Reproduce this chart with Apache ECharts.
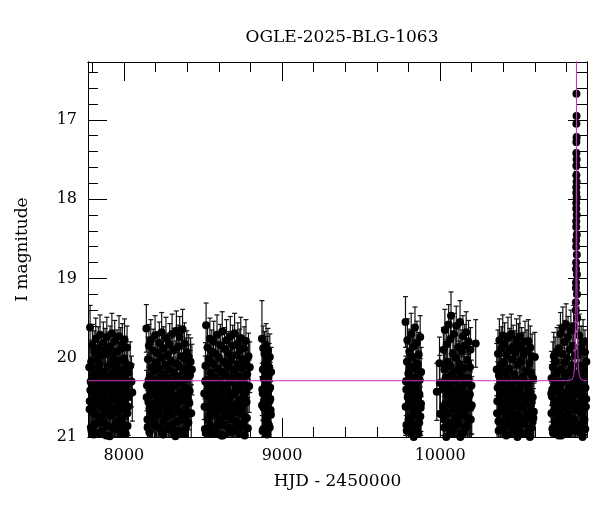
<!DOCTYPE html>
<html><head><meta charset="utf-8">
<script src="https://cdn.jsdelivr.net/npm/echarts@6/dist/echarts.min.js"></script>
<style>html,body{margin:0;padding:0;background:#fff}#c{width:600px;height:512px}</style>
</head><body><div id="c"></div>
<script>
// [HJD-2450000, I mag, error]
const season2017 = [[7781,20.12,.30],[7783,20.65,.35],[7786,19.62,.28],[7788,20.41,.32],[7791,20.88,.38],[7793,20.05,.27],[7796,20.33,.31],[7798,21.05,.40],[7801,19.84,.26],[7804,20.52,.34],[7806,20.21,.30],[7809,20.97,.38],[7812,19.93,.27],[7814,20.44,.33],[7817,20.71,.36],[7820,20.15,.29],[7822,19.76,.26],[7825,20.58,.34],[7828,20.29,.31],[7830,21.10,.42],[7833,20.02,.28],[7836,20.37,.32],[7838,19.88,.27],[7841,20.81,.37],[7844,20.49,.33],[7846,20.09,.29],[7849,19.71,.25],[7852,20.62,.35],[7854,20.26,.30],[7857,20.93,.39],[7860,19.97,.28],[7862,20.40,.32],[7865,20.74,.36],[7868,20.18,.29],[7870,19.81,.26],[7873,20.55,.34],[7876,21.02,.41],[7878,20.31,.31],[7881,19.90,.27],[7884,20.67,.35],[7886,20.23,.30],[7889,20.46,.33],[7892,19.74,.25],[7894,20.86,.38],[7897,20.11,.29],[7900,20.36,.31],[7902,19.95,.27],[7905,20.60,.35],[7908,20.28,.30],[7910,20.99,.40],[7913,19.86,.26],[7916,20.43,.33],[7918,20.73,.36],[7921,20.07,.28],[7924,19.69,.25],[7926,20.51,.34],[7929,20.20,.30],[7932,20.90,.38],[7934,19.99,.28],[7937,20.38,.32],[7940,20.64,.35],[7942,19.79,.26],[7945,20.25,.30],[7948,20.83,.37],[7950,20.13,.29],[7953,20.47,.33],[7956,19.92,.27],[7958,20.69,.36],[7961,20.34,.31],[7964,21.08,.41],[7966,20.04,.28],[7969,19.73,.26],[7972,20.57,.34],[7974,20.22,.30],[7977,20.95,.39],[7980,19.89,.27],[7982,20.42,.32],[7985,20.77,.37],[7988,20.16,.29],[7990,19.83,.26],[7993,20.53,.34],[7996,20.30,.31],[7998,20.85,.38],[8001,20.01,.28],[8004,19.77,.26],[8006,20.63,.35],[8009,20.27,.30],[8012,20.96,.39],[8014,20.08,.29],[8017,20.45,.33],[8020,19.87,.27],[8022,20.70,.36],[8025,20.19,.30],[8028,20.50,.33],[8040,20.10,.30],[8048,20.30,.32],[8053,20.44,.36],
  [7784,20.55,.35],[7790,20.30,.32],[7795,20.92,.40],[7800,20.68,.36],[7805,21.15,.43],[7810,20.40,.33],[7815,20.85,.39],[7821,20.60,.35],[7826,21.08,.42],[7832,20.48,.34],[7839,20.20,.31],[7845,20.95,.40],[7850,20.75,.37],[7856,20.35,.32],[7863,21.12,.43],[7869,20.58,.35],[7875,20.82,.38],[7882,20.27,.31],[7888,20.98,.41],[7895,20.62,.36],[7901,20.44,.33],[7907,21.06,.42],[7914,20.70,.37],[7920,20.32,.32],[7927,20.88,.39],[7933,20.52,.35],[7939,21.10,.43],[7946,20.66,.36],[7952,20.24,.31],[7959,20.90,.40],[7965,20.56,.35],[7971,20.80,.38],[7978,20.38,.33],[7984,21.03,.42],[7991,20.64,.36],[7997,20.46,.34],[8003,20.93,.40],[8010,20.58,.35],[8016,20.36,.33],[8023,20.86,.39],[8027,20.62,.36]];
const season2018 = [[8142,19.63,.30],[8146,20.35,.32],[8149,20.78,.37],[8152,20.02,.28],[8155,20.56,.34],[8158,19.85,.27],[8161,20.94,.39],[8164,20.24,.30],[8167,20.47,.33],[8170,19.78,.26],[8173,20.68,.36],[8176,20.12,.29],[8179,21.04,.41],[8182,20.31,.31],[8185,19.91,.27],[8188,20.59,.35],[8191,20.17,.29],[8194,20.84,.38],[8197,19.72,.25],[8200,20.40,.32],[8203,20.06,.28],[8206,20.73,.36],[8209,20.28,.30],[8212,19.94,.27],[8215,20.52,.34],[8218,21.09,.42],[8221,20.14,.29],[8224,19.81,.26],[8227,20.63,.35],[8230,20.37,.32],[8233,20.89,.38],[8236,20.00,.28],[8239,19.68,.25],[8242,20.45,.33],[8245,20.21,.30],[8248,20.97,.40],[8251,19.88,.27],[8254,20.58,.34],[8257,20.33,.31],[8260,20.75,.36],[8263,20.09,.29],[8266,19.75,.26],[8269,20.49,.33],[8272,21.01,.41],[8275,20.26,.30],[8278,19.96,.27],[8281,20.66,.35],[8284,20.15,.29],[8287,20.87,.38],[8290,19.83,.26],[8293,20.42,.32],[8296,20.04,.28],[8299,20.71,.36],[8302,20.30,.31],[8305,19.70,.25],[8308,20.54,.34],[8311,20.92,.39],[8314,20.19,.30],[8317,19.90,.27],[8320,20.61,.35],[8323,20.36,.31],[8326,20.99,.40],[8329,20.07,.28],[8332,19.66,.25],[8335,20.48,.33],[8338,20.23,.30],[8341,20.80,.37],[8344,19.86,.27],[8347,20.55,.34],[8350,20.11,.29],[8353,19.74,.26],[8356,20.69,.36],[8359,20.32,.31],[8362,21.06,.41],[8365,19.98,.28],[8368,20.44,.33],[8371,19.64,.25],[8374,20.76,.37],[8377,20.16,.29],[8380,20.51,.34],[8383,19.82,.26],[8386,20.91,.39],[8389,20.27,.30],[8392,20.03,.28],[8395,20.65,.35],[8398,19.93,.27],[8401,20.39,.32],[8404,20.82,.38],[8407,20.13,.29],[8410,19.99,.28],[8414,20.57,.34],[8418,20.22,.31],[8422,20.05,.30],[8426,20.70,.36],[8430,20.15,.32],
  [8144,20.50,.34],[8150,20.88,.39],[8156,20.28,.32],[8162,20.64,.36],[8168,21.10,.43],[8174,20.42,.33],[8180,20.76,.37],[8186,20.34,.32],[8192,21.02,.42],[8198,20.58,.35],[8204,20.86,.39],[8210,20.46,.34],[8216,20.70,.37],[8222,21.14,.43],[8228,20.26,.31],[8234,20.62,.36],[8240,20.94,.40],[8246,20.52,.35],[8252,20.80,.38],[8258,20.30,.32],[8264,21.06,.42],[8270,20.66,.36],[8276,20.40,.33],[8282,20.90,.40],[8288,20.56,.35],[8294,21.12,.43],[8300,20.72,.37],[8306,20.36,.33],[8312,20.84,.38],[8318,20.48,.34],[8324,20.98,.41],[8330,20.60,.36],[8336,20.32,.32],[8342,20.92,.40],[8348,20.68,.36],[8354,21.04,.42],[8360,20.44,.34],[8366,20.78,.38],[8372,20.54,.35],[8378,20.96,.41],[8384,20.38,.33],[8390,20.74,.37],[8396,21.08,.42],[8402,20.50,.35],[8408,20.82,.38],[8416,20.42,.34]];
const season2019 = [[8508,20.45,.33],[8512,20.90,.38],[8516,20.10,.29],[8520,19.59,.28],[8523,20.62,.35],[8526,20.28,.30],[8529,19.87,.27],[8532,21.03,.41],[8535,20.38,.32],[8538,20.01,.28],[8541,20.74,.36],[8544,19.76,.26],[8547,20.50,.34],[8550,20.19,.30],[8553,20.95,.39],[8556,19.92,.27],[8559,20.43,.33],[8562,20.67,.35],[8565,20.08,.29],[8568,19.80,.26],[8571,20.57,.34],[8574,21.07,.41],[8577,20.25,.30],[8580,19.95,.27],[8583,20.71,.36],[8586,20.34,.31],[8589,19.71,.25],[8592,20.86,.38],[8595,20.14,.29],[8598,20.46,.33],[8601,20.00,.28],[8604,20.79,.37],[8607,20.29,.31],[8610,19.84,.26],[8613,20.60,.35],[8616,20.98,.40],[8619,20.18,.29],[8622,19.67,.25],[8625,20.53,.34],[8628,20.37,.32],[8631,20.85,.38],[8634,20.05,.28],[8637,19.89,.27],[8640,20.64,.35],[8643,20.22,.30],[8646,21.02,.41],[8649,19.78,.26],[8652,20.41,.32],[8655,20.72,.36],[8658,20.11,.29],[8661,19.94,.27],[8664,20.55,.34],[8667,20.31,.31],[8670,20.92,.39],[8673,19.73,.25],[8676,20.48,.33],[8679,20.03,.28],[8682,20.78,.37],[8685,20.26,.30],[8688,19.85,.26],[8691,20.61,.35],[8694,21.05,.41],[8697,20.16,.29],[8700,19.69,.25],[8703,20.44,.33],[8706,20.35,.31],[8709,20.88,.38],[8712,19.97,.28],[8715,20.58,.34],[8718,20.09,.29],[8721,19.82,.26],[8724,20.69,.36],[8727,20.24,.30],[8730,20.96,.40],[8733,19.91,.27],[8736,20.40,.32],[8739,19.75,.26],[8742,20.66,.35],[8745,20.13,.29],[8748,20.52,.34],[8751,20.02,.28],[8754,20.83,.38],[8757,20.30,.31],[8760,19.88,.27],[8763,20.47,.33],[8766,20.75,.36],[8769,20.06,.29],[8772,19.79,.27],[8776,20.56,.34],[8780,20.21,.31],[8784,20.89,.39],[8788,19.98,.29],[8792,20.36,.33],[8796,20.12,.32],
  [8510,20.62,.36],[8514,20.30,.32],[8518,20.95,.40],[8524,20.48,.34],[8530,20.78,.38],[8536,21.10,.43],[8542,20.40,.33],[8548,20.86,.39],[8554,20.56,.35],[8560,21.04,.42],[8566,20.34,.32],[8572,20.72,.37],[8578,20.50,.34],[8584,20.96,.40],[8590,20.28,.31],[8596,20.66,.36],[8602,21.12,.43],[8608,20.44,.33],[8614,20.82,.38],[8620,20.58,.35],[8626,20.98,.41],[8632,20.36,.32],[8638,20.74,.37],[8644,20.52,.35],[8650,21.06,.42],[8656,20.42,.33],[8662,20.88,.39],[8668,20.62,.36],[8674,20.30,.32],[8680,20.94,.40],[8686,20.68,.36],[8692,20.46,.34],[8698,21.02,.42],[8704,20.60,.35],[8710,20.80,.38],[8716,20.38,.33],[8722,20.92,.40],[8728,20.54,.35],[8734,21.08,.42],[8740,20.70,.37],[8746,20.32,.32],[8752,20.86,.39],[8758,20.58,.35],[8764,20.98,.41],[8770,20.44,.34],[8778,20.76,.37]];
const season2020 = [[8873,19.76,.48],[8875,20.40,.33],[8877,20.92,.40],[8879,20.15,.30],[8881,19.88,.28],[8883,20.63,.36],[8885,20.27,.31],[8887,21.05,.42],[8889,19.95,.28],[8891,20.52,.34],[8893,20.08,.29],[8895,20.79,.38],[8897,20.33,.32],[8899,19.84,.27],[8901,20.58,.35],[8903,20.20,.30],[8905,20.97,.40],[8907,20.02,.29],[8909,20.45,.33],[8911,19.91,.28],[8913,20.70,.37],[8915,20.24,.31],[8917,20.85,.39],[8919,20.12,.30],[8921,20.55,.34],[8923,19.99,.29],[8925,20.38,.32],[8928,20.66,.36],[8931,20.18,.31],
  [8874,20.60,.36],[8878,20.45,.34],[8882,20.90,.40],[8886,20.55,.35],[8890,21.02,.42],[8894,20.35,.33],[8898,20.75,.37],[8902,20.50,.35],[8906,20.82,.38],[8910,20.62,.36],[8914,21.06,.42],[8918,20.40,.34],[8922,20.88,.39],[8926,20.52,.35],[8930,20.72,.37]];
const season2022 = [[9781,19.55,.32],[9784,20.30,.32],[9787,20.85,.39],[9790,20.05,.29],[9793,19.78,.27],[9796,20.60,.35],[9799,20.20,.30],[9802,21.02,.41],[9805,19.92,.28],[9808,20.47,.33],[9811,20.12,.29],[9814,20.76,.37],[9817,19.70,.26],[9820,20.38,.32],[9823,20.95,.40],[9826,20.00,.28],[9829,20.55,.34],[9832,19.86,.27],[9835,20.68,.36],[9838,20.25,.30],[9841,19.62,.26],[9844,20.90,.39],[9847,20.15,.29],[9850,20.42,.33],[9853,19.81,.27],[9856,20.72,.36],[9859,20.08,.29],[9862,20.50,.34],[9865,19.96,.28],[9868,20.82,.38],[9871,20.28,.31],[9874,19.74,.27],[9877,20.63,.35],[9880,20.18,.31],
  [9782,20.62,.36],[9786,20.40,.33],[9789,20.92,.40],[9795,20.50,.35],[9800,20.78,.38],[9806,20.33,.32],[9810,21.05,.42],[9816,20.58,.35],[9821,20.84,.39],[9827,20.44,.34],[9833,21.00,.41],[9839,20.66,.36],[9845,20.36,.33],[9851,20.88,.39],[9857,20.54,.35],[9863,20.96,.40],[9869,20.46,.34],[9875,20.74,.37],[9879,20.58,.35]];
const season2023 = [[9979,20.43,.36],[9996,20.07,.33],[9998,20.32,.35],[10002,20.71,.40],[10018,20.40,.33],[10021,19.90,.28],[10024,20.78,.37],[10027,20.15,.29],[10030,19.65,.26],[10033,20.58,.34],[10036,20.25,.30],[10039,21.00,.41],[10042,19.83,.27],[10045,20.46,.33],[10048,20.05,.28],[10051,20.70,.36],[10054,19.58,.25],[10057,20.33,.31],[10060,20.90,.39],[10063,20.10,.29],[10066,19.76,.26],[10069,19.47,.30],[10072,20.54,.34],[10075,20.20,.30],[10078,20.86,.38],[10081,19.95,.27],[10084,20.42,.32],[10087,19.70,.26],[10090,20.65,.35],[10093,20.28,.30],[10096,21.05,.42],[10099,20.00,.28],[10102,19.60,.25],[10105,20.50,.34],[10108,20.16,.29],[10111,20.80,.37],[10114,19.87,.27],[10117,20.37,.32],[10120,20.72,.36],[10123,20.08,.29],[10126,19.55,.27],[10129,20.60,.35],[10132,20.23,.30],[10135,20.95,.40],[10138,19.92,.27],[10141,20.44,.33],[10144,19.73,.26],[10147,20.67,.35],[10150,20.13,.29],[10153,20.52,.34],[10156,19.85,.27],[10159,20.88,.39],[10162,20.30,.31],[10165,19.68,.26],[10168,20.57,.34],[10171,20.03,.28],[10174,20.76,.37],[10177,20.26,.30],[10180,19.80,.27],[10183,20.48,.33],[10186,21.02,.41],[10189,20.12,.29],[10192,19.90,.28],[10195,20.62,.35],[10198,20.35,.32],[10225,19.82,.30],
  [10020,20.62,.36],[10026,20.88,.39],[10032,20.35,.32],[10038,20.70,.37],[10044,21.08,.42],[10050,20.48,.34],[10056,20.82,.38],[10062,20.40,.33],[10068,20.96,.40],[10074,20.60,.36],[10080,20.30,.32],[10086,20.90,.40],[10092,20.54,.35],[10098,20.76,.37],[10104,21.12,.43],[10110,20.44,.34],[10116,20.84,.38],[10122,20.58,.35],[10128,21.00,.41],[10134,20.38,.33],[10140,20.72,.37],[10146,20.50,.34],[10152,20.94,.40],[10158,20.66,.36],[10164,20.32,.32],[10170,20.86,.39],[10176,20.56,.35],[10182,21.04,.42],[10188,20.46,.34],[10194,20.78,.38],[10200,20.60,.36]];
const season2024 = [[10358,20.15,.33],[10362,20.55,.36],[10366,19.95,.30],[10369,20.80,.38],[10372,20.22,.30],[10375,19.78,.27],[10378,20.48,.33],[10381,21.03,.41],[10384,20.10,.29],[10387,19.88,.27],[10390,20.64,.35],[10393,20.32,.31],[10396,19.72,.26],[10399,20.91,.39],[10402,20.06,.28],[10405,20.43,.33],[10408,19.83,.27],[10411,20.70,.36],[10414,20.18,.29],[10417,20.57,.34],[10420,19.97,.28],[10423,20.85,.38],[10426,20.27,.30],[10429,19.75,.26],[10432,20.51,.34],[10435,21.08,.42],[10438,20.14,.29],[10441,19.90,.27],[10444,20.67,.35],[10447,20.36,.31],[10450,19.70,.25],[10453,20.94,.40],[10456,20.02,.28],[10459,20.45,.33],[10462,19.86,.27],[10465,20.74,.36],[10468,20.21,.30],[10471,20.60,.35],[10474,19.93,.27],[10477,20.88,.38],[10480,20.29,.31],[10483,19.77,.26],[10486,20.53,.34],[10489,21.00,.41],[10492,20.09,.29],[10495,19.84,.27],[10498,20.62,.35],[10501,20.39,.32],[10504,19.73,.26],[10507,20.96,.40],[10510,20.04,.28],[10513,20.47,.33],[10516,19.89,.27],[10519,20.77,.37],[10522,20.24,.30],[10525,20.58,.34],[10528,19.96,.28],[10531,20.83,.38],[10534,20.31,.31],[10537,19.80,.26],[10540,20.50,.34],[10543,21.05,.41],[10546,20.16,.29],[10549,19.92,.27],[10552,20.69,.36],[10555,20.34,.31],[10558,19.79,.27],[10561,20.90,.39],[10564,20.07,.28],[10567,20.44,.33],[10570,19.87,.27],[10573,20.72,.36],[10576,20.20,.30],[10579,20.56,.34],[10582,19.98,.28],[10585,20.81,.38],[10588,20.26,.31],[10593,20.68,.36],[10599,19.99,.31],
  [10360,20.70,.37],[10364,20.38,.33],[10370,20.92,.40],[10376,20.52,.35],[10382,20.80,.38],[10388,20.30,.32],[10394,21.06,.42],[10400,20.60,.36],[10406,20.86,.39],[10412,20.42,.34],[10418,20.98,.41],[10424,20.56,.35],[10430,20.76,.37],[10436,20.34,.32],[10442,21.10,.43],[10448,20.64,.36],[10454,20.46,.34],[10460,20.90,.40],[10466,20.54,.35],[10472,20.82,.38],[10478,21.02,.42],[10484,20.40,.33],[10490,20.72,.37],[10496,20.58,.35],[10502,20.94,.40],[10508,20.36,.33],[10514,20.84,.38],[10520,20.62,.36],[10526,21.08,.42],[10532,20.48,.34],[10538,20.78,.38],[10544,20.56,.35],[10550,20.96,.40],[10556,20.44,.34],[10562,20.74,.37],[10568,21.00,.41],[10574,20.60,.36],[10580,20.88,.39],[10586,20.50,.35],[10590,20.76,.37]];
const season2025 = [[10703,20.45,.36],[10705,20.26,.34],[10707,20.49,.36],[10710,20.90,.40],[10713,20.12,.32],[10716,20.68,.37],[10719,19.98,.30],[10722,20.35,.33],[10725,20.80,.39],[10728,20.05,.31],[10731,20.58,.35],[10734,20.95,.41],[10737,20.20,.32],[10740,19.92,.30],[10743,20.62,.36],[10746,20.30,.33],[10749,20.85,.39],[10752,19.88,.29],[10755,20.40,.33],[10758,20.75,.37],[10761,19.70,.27],[10764,20.15,.30],[10767,20.98,.41],[10770,19.95,.28],[10773,20.52,.34],[10776,19.62,.26],[10779,20.30,.31],[10782,20.82,.38],[10785,20.06,.29],[10788,19.80,.27],[10791,20.60,.35],[10794,20.22,.30],[10797,19.58,.26],[10800,20.92,.40],[10803,20.00,.28],[10806,20.45,.33],[10809,19.74,.26],[10812,20.70,.36],[10815,20.18,.30],[10818,19.90,.27],[10821,20.55,.34],[10824,21.03,.41],[10827,19.66,.26],[10830,20.33,.31],[10833,20.10,.29],[10836,20.78,.37],[10839,19.85,.27],[10842,20.48,.33],[10845,19.60,.26],[10848,20.25,.30],[10851,20.88,.39],[10854,19.97,.28],[10857,20.40,.32],[10859,20.65,.35],[10868,20.20,.31],[10871,19.95,.29],[10874,20.60,.35],[10877,20.32,.31],[10880,19.72,.27],[10883,20.85,.39],[10886,20.10,.29],[10889,20.45,.33],[10892,19.88,.28],[10895,20.70,.36],[10898,20.25,.30],[10901,21.00,.41],[10904,19.80,.28],[10907,20.52,.34],[10910,20.15,.30],[10913,20.78,.37],[10916,19.93,.28],[10919,20.38,.32],[10922,20.62,.35],[10925,20.05,.30],
  [10704,20.70,.38],[10709,20.40,.35],[10714,20.95,.41],[10720,20.58,.36],[10726,21.05,.42],[10732,20.42,.34],[10738,20.80,.39],[10744,20.55,.36],[10750,20.98,.41],[10756,20.35,.33],[10762,20.72,.37],[10768,20.50,.35],[10774,20.90,.40],[10780,20.62,.36],[10786,21.08,.42],[10792,20.44,.34],[10798,20.76,.38],[10804,20.56,.35],[10810,20.96,.40],[10816,20.38,.33],[10822,20.84,.39],[10828,20.60,.36],[10834,21.02,.42],[10840,20.46,.34],[10846,20.78,.38],[10852,20.58,.35],[10856,20.92,.40],[10870,20.66,.36],[10876,20.40,.34],[10882,20.94,.40],[10888,20.56,.35],[10894,21.06,.42],[10900,20.48,.34],[10906,20.80,.38],[10912,20.62,.36],[10918,20.90,.40],[10924,20.52,.35]];
const peakPoints = [[10862.2,16.67,.03],[10862.9,16.95,.03],[10861.9,17.05,.03],[10863.2,17.22,.04],[10861.8,17.28,.04],[10861.7,17.42,.04],[10863.3,17.50,.04],[10861.6,17.58,.04],[10861.5,17.70,.05],[10863.5,17.78,.05],[10861.4,17.85,.05],[10861.3,17.92,.05],[10863.6,17.98,.05],[10861.2,18.05,.05],[10861.1,18.12,.06],[10863.9,18.20,.06],[10861.0,18.28,.06],[10860.9,18.35,.06],[10864.2,18.45,.07],[10860.6,18.52,.07],[10860.4,18.60,.07],[10864.6,18.70,.08],[10860.1,18.80,.08],[10859.9,18.88,.08],[10865.2,18.95,.09],[10859.5,19.05,.10],[10859.2,19.12,.10],[10866.0,19.20,.11],[10858.7,19.30,.12],[10858.2,19.40,.13],[10867.0,19.50,.14]];
// model light curve
const modelHjd = [7773,10800,10817,10835.5,10844.5,10849,10853.5,10856.5,10858,10859.5,10860.25,10861,10861.75,10862.2,10862.5,10862.8,10863.25,10864,10864.75,10865.5,10867,10868.5,10871.5,10876,10880.5,10889.5,10907.5,10929];
const modelMag = [20.29,20.29,20.287,20.272,20.226,20.154,19.971,19.69,19.443,19.053,18.76,18.334,17.61,16.69,15.73,16.69,17.61,18.334,18.76,19.053,19.443,19.69,19.971,20.154,20.226,20.272,20.287,20.29];
// axis ticks
const xMajorTicks = [8000,9000,10000];
const xMinorTicks = [7800,8000,8200,8400,8600,8800,9000,9200,9400,9600,9800,10000,10200,10400,10600,10800];
const yMajorTicks = [17,18,19,20,21];
const yMinorTicks = [16.4,16.6,16.8,17,17.2,17.4,17.6,17.8,18,18.2,18.4,18.6,18.8,19,19.2,19.4,19.6,19.8,20,20.2,20.4,20.6,20.8,21];

const allPoints = [].concat(season2017, season2018, season2019, season2020, season2022, season2023, season2024, season2025, peakPoints);
const modelData = modelHjd.map((h, i) => [h, modelMag[i]]);

const FONT = 'DejaVu Serif';
const X_MIN = 7773, X_MAX = 10929, Y_MIN = 16.27, Y_MAX = 21;
const lineCol = '#000';

function xAx(pos, ticks, len, label, name) {
  return {
    type: 'value', position: pos, min: X_MIN, max: X_MAX, gridIndex: 0,
    axisLine: { show: true, onZero: false, lineStyle: { color: lineCol, width: 1 } },
    axisTick: { show: true, inside: true, length: len, customValues: ticks, lineStyle: { color: lineCol, width: 1 } },
    axisLabel: label ? { show: true, customValues: ticks, margin: 11, formatter: v => String(v), fontFamily: FONT, fontSize: 16, color: '#000' } : { show: false },
    splitLine: { show: false },
    name: name || '', nameLocation: 'middle', nameGap: 36,
    nameTextStyle: { fontFamily: FONT, fontSize: 17, color: '#000' }
  };
}
function yAx(pos, ticks, len, label, name) {
  return {
    type: 'value', position: pos, min: Y_MIN, max: Y_MAX, inverse: true, gridIndex: 0,
    axisLine: { show: true, onZero: false, lineStyle: { color: lineCol, width: 1 } },
    axisTick: { show: true, inside: true, length: len, customValues: ticks, lineStyle: { color: lineCol, width: 1 } },
    axisLabel: label ? { show: true, customValues: ticks, margin: 11, formatter: v => String(v), fontFamily: FONT, fontSize: 16, color: '#000' } : { show: false },
    splitLine: { show: false },
    name: name || '', nameLocation: 'middle', nameGap: 57,
    nameTextStyle: { fontFamily: FONT, fontSize: 17, color: '#000' }
  };
}

const chart = echarts.init(document.getElementById('c'));
chart.setOption({
  animation: false,
  backgroundColor: '#fff',
  title: { text: 'OGLE-2025-BLG-1063', left: 337, top: 24, textAlign: 'center',
    textStyle: { fontFamily: FONT, fontSize: 17, fontWeight: 'normal', color: '#000' } },
  grid: { left: 88, right: 13, top: 62, bottom: 75, containLabel: false },
  xAxis: [
    xAx('bottom', xMajorTicks, 19, true, 'HJD - 2450000'),
    xAx('bottom', xMinorTicks, 10, false),
    xAx('top', xMajorTicks, 19, false),
    xAx('top', xMinorTicks, 10, false)
  ],
  yAxis: [
    yAx('left', yMajorTicks, 19, true, 'I magnitude'),
    yAx('left', yMinorTicks, 10, false),
    yAx('right', yMajorTicks, 19, false),
    yAx('right', yMinorTicks, 10, false)
  ],
  series: [
    {
      type: 'custom', xAxisIndex: 0, yAxisIndex: 0, clip: true, z: 2,
      data: allPoints,
      renderItem: function (params, api) {
        const x = api.value(0), y = api.value(1), e = api.value(2);
        const p1 = api.coord([x, y - e]);
        const p2 = api.coord([x, y + e]);
        const w = 2.5;
        const st = { stroke: '#111', lineWidth: 1.2 };
        return { type: 'group', children: [
          { type: 'line', shape: { x1: p1[0], y1: p1[1], x2: p2[0], y2: p2[1] }, style: st },
          { type: 'line', shape: { x1: p1[0] - w, y1: p1[1], x2: p1[0] + w, y2: p1[1] }, style: st },
          { type: 'line', shape: { x1: p2[0] - w, y1: p2[1], x2: p2[0] + w, y2: p2[1] }, style: st }
        ] };
      }
    },
    {
      type: 'scatter', xAxisIndex: 0, yAxisIndex: 0, clip: true, z: 3,
      data: allPoints, symbol: 'circle', symbolSize: 8,
      itemStyle: { color: '#000', opacity: 1 }
    },
    {
      type: 'line', xAxisIndex: 0, yAxisIndex: 0, clip: true, z: 4,
      data: modelData, showSymbol: false, smooth: false,
      lineStyle: { color: '#cc33cc', width: 1 }
    }
  ]
});
</script></body></html>
